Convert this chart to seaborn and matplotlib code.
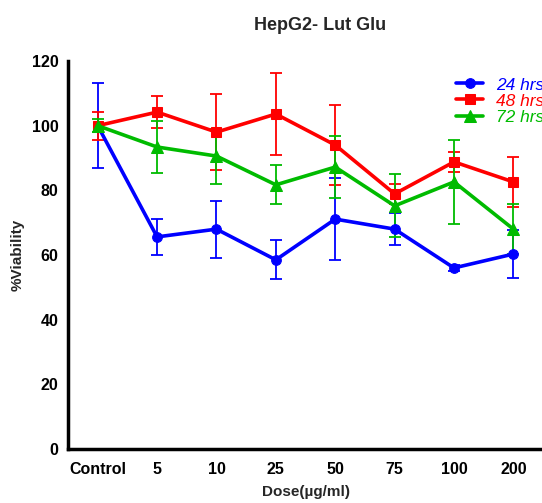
import matplotlib
matplotlib.use("Agg")
import matplotlib.pyplot as plt
import seaborn as sns
import pandas as pd

categories = ["Control", "5", "10", "25", "50", "75", "100", "200"]
series_names = ["24 hrs", "48 hrs", "72 hrs"]
v24 = [100, 65.6, 68.0, 58.5, 71.1, 68.0, 56.0, 60.3]
e24 = [13.2, 5.5, 8.8, 6.0, 12.6, 5.0, 1.0, 7.5]
v48 = [100, 104.2, 98.0, 103.6, 94.0, 78.9, 88.8, 82.6]
e48 = [4.3, 5.0, 11.8, 12.8, 12.3, 3.0, 3.0, 7.7]
v72 = [100, 93.4, 90.6, 81.7, 87.2, 75.2, 82.6, 68.0]
e72 = [2.0, 8.0, 8.5, 6.0, 9.7, 9.7, 13.0, 7.8]
colors = ["#0000FF", "#FF0000", "#00BB00"]
markers = ["o", "s", "^"]

sns.set_style("white")
plt.rcParams["font.family"] = ["Liberation Sans", "DejaVu Sans"]

rows = []
for name, vals, errs in zip(series_names, [v24, v48, v72], [e24, e48, e72]):
    for c, v, e in zip(categories, vals, errs):
        rows.append({"dose": c, "viab": v, "err": e, "series": name})
df = pd.DataFrame(rows)

fig = plt.figure(figsize=(5.42, 5.03), dpi=100)
ax = fig.add_axes([68 / 542, 1 - 449 / 503, 1 - 68 / 542 + 0.002, (449 - 61) / 503])

for name, col, mk in zip(series_names, colors, markers):
    sub = df[df.series == name]
    ax.errorbar(sub["dose"], sub["viab"], yerr=sub["err"], fmt="none",
                ecolor=col, elinewidth=1.3, capsize=4.5, capthick=1.3, zorder=2)
    sns.lineplot(data=sub, x="dose", y="viab", ax=ax, color=col, marker=mk,
                 markersize=7 if mk != "^" else 8, markeredgecolor=col,
                 linewidth=2.6, label=name, sort=False, zorder=3)

ax.set_xlim(-0.5, 7.5)
ax.set_ylim(0, 120)
ax.set_yticks(range(0, 121, 20))
for s in ["top", "right"]:
    ax.spines[s].set_visible(False)
for s in ["left", "bottom"]:
    ax.spines[s].set_linewidth(2.5)
    ax.spines[s].set_color("black")
ax.tick_params(axis="both", direction="out", length=5, width=2.2, colors="black",
               labelsize=11.5, pad=2)
ax.tick_params(axis="x", pad=4)
for lab in ax.get_xticklabels() + ax.get_yticklabels():
    lab.set_fontweight("bold")
ax.set_xlabel("Dose(\u00b5g/ml)", fontsize=11, fontweight="bold", labelpad=6)
ax.set_ylabel("%Viability", fontsize=11, fontweight="bold", labelpad=5)
fig.text(0.59, 1 - 25 / 503, "HepG2- Lut Glu", ha="center", va="center",
         fontsize=13, fontweight="bold")

leg = ax.legend(loc="upper left", bbox_to_anchor=(0.783, 0.998), frameon=False,
                fontsize=12.5, handlelength=1.6, handletextpad=0.75, labelspacing=0.05)
for t, c in zip(leg.get_texts(), colors):
    t.set_color(c)
    t.set_fontstyle("italic")

fig.savefig("out.png", dpi=100)
